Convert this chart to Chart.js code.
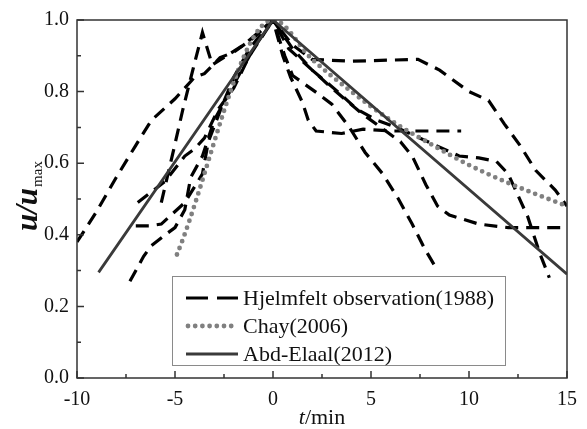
<!DOCTYPE html>
<html>
<head>
<meta charset="utf-8">
<script src="https://cdn.jsdelivr.net/npm/chart.js@4.4.1/dist/chart.umd.min.js"></script>
<style>
html,body{margin:0;padding:0;background:#fff;}
#wrap{width:587px;height:429px;position:relative;}
</style>
</head>
<body>
<div id="wrap"><canvas id="c" width="587" height="429"></canvas></div>
<script>
// ---- data (t in min, u/umax) ----
const obs1 = [[-10,0.38],[-9,0.465],[-8,0.56],[-7,0.65],[-6.2,0.72],[-5,0.78],[-4,0.84],[-3.5,0.85],[-2.7,0.895],[-2,0.91],[-1,0.95],[0,1],
  [1,0.93],[2,0.89],[4,0.885],[7.4,0.89],[8.5,0.86],[10,0.80],[11,0.775],[11.8,0.71],[12.6,0.65],[13.4,0.58],[14.4,0.525],[15,0.48]];
const obs2 = [[-5.7,0.49],[-5.1,0.63],[-4.6,0.75],[-4.0,0.88],[-3.6,0.965],[-3.1,0.875],[-1.5,0.93],[0,1],
  [0.5,0.90],[0.9,0.84],[1.5,0.77],[1.8,0.72],[2.2,0.69],[3.5,0.683],[4.6,0.695],[6,0.69],[7.8,0.69],[9.6,0.69]];
const obs3 = [[-7.3,0.27],[-6.6,0.34],[-6.2,0.37],[-5.5,0.40],[-5.0,0.42],[-4.5,0.47],[-4.2,0.56],[-3.6,0.62],[-3.0,0.72],[-2.0,0.82],[-1,0.92],[0,1],
  [0.6,0.90],[1.0,0.845],[2.4,0.79],[3.0,0.765],[3.9,0.70],[4.7,0.63],[5.6,0.57],[6.4,0.50],[7.1,0.43],[7.75,0.36],[8.4,0.30]];
const obs4 = [[-7,0.425],[-6.3,0.425],[-5.7,0.43],[-5.2,0.455],[-4.5,0.49],[-3.6,0.57],[-3.3,0.66],[-2.6,0.76],[-2.0,0.84],[-1.2,0.92],[0,1],
  [0.8,0.92],[2,0.86],[3,0.81],[4.5,0.74],[5.5,0.70],[6.5,0.66],[7.1,0.62],[7.8,0.54],[8.4,0.48],[9,0.455],[10.5,0.43],[12,0.42],[15,0.42]];
const obs5 = [[-6.9,0.49],[-6.2,0.52],[-5.5,0.55],[-4.5,0.62],[-4.0,0.64],[-3.5,0.67],[-2.8,0.75],[-2.0,0.81],[-1.2,0.90],[0,1],
  [1,0.92],[2,0.86],[3.3,0.80],[4.3,0.75],[5.3,0.72],[6.3,0.70],[7.7,0.665],[9.5,0.62],[10.5,0.615],[11.4,0.605],[12,0.57],[13,0.45],[13.6,0.35],[14.1,0.28]];
const chay = [[-4.9,0.345],[0,1],[2,0.89],[4,0.80],[6,0.72],[8,0.655],[10,0.595],[12,0.545],[15,0.48]];
const abdElaal = [[-8.9,0.295],[0,1],[15,0.29]];

const xTicks = [-10,-5,0,5,10,15];
const xMinor = [-7.5,-2.5,2.5,7.5,12.5];
const yTicks = [0,0.2,0.4,0.6,0.8,1.0];
const yMinor = [0.1,0.3,0.5,0.7,0.9];
const legendLabels = ['Hjelmfelt observation(1988)','Chay(2006)','Abd-Elaal(2012)'];

const SERIF = '"Liberation Serif","Times New Roman",serif';
const toXY = a => a.map(p => ({x:p[0], y:p[1]}));

const obsStyle = {borderColor:'#000', borderWidth:3.2, borderDash:[13,8], pointRadius:0, fill:false, tension:0, order:3};
const datasets = [
  Object.assign({label:legendLabels[0], data:toXY(obs1)}, obsStyle),
  Object.assign({label:legendLabels[0]+' b', data:toXY(obs2)}, obsStyle),
  Object.assign({label:legendLabels[0]+' c', data:toXY(obs3)}, obsStyle),
  Object.assign({label:legendLabels[0]+' d', data:toXY(obs4)}, obsStyle),
  Object.assign({label:legendLabels[0]+' e', data:toXY(obs5)}, obsStyle),
  {label:legendLabels[1], data:toXY(chay), borderColor:'#808080', borderWidth:4.8, borderDash:[0,7.2], borderCapStyle:'round',
   pointRadius:0, fill:false, cubicInterpolationMode:'monotone', order:2},
  {label:legendLabels[2], data:toXY(abdElaal), borderColor:'#3a3a3a', borderWidth:2.8, pointRadius:0, fill:false, tension:0, order:1}
];

const decor = {
  id:'decor',
  afterDraw(chart){
    const {ctx, chartArea:a, scales:{x, y}} = chart;
    ctx.save();
    // frame
    ctx.strokeStyle = '#333'; ctx.lineWidth = 1.5;
    ctx.strokeRect(a.left, a.top, a.right - a.left, a.bottom - a.top);
    // inward ticks
    ctx.beginPath();
    xTicks.forEach(v => { const p = x.getPixelForValue(v); ctx.moveTo(p, a.bottom); ctx.lineTo(p, a.bottom - 7); });
    xMinor.forEach(v => { const p = x.getPixelForValue(v); ctx.moveTo(p, a.bottom); ctx.lineTo(p, a.bottom - 4); });
    yTicks.forEach(v => { const p = y.getPixelForValue(v); ctx.moveTo(a.left, p); ctx.lineTo(a.left + 7, p); });
    yMinor.forEach(v => { const p = y.getPixelForValue(v); ctx.moveTo(a.left, p); ctx.lineTo(a.left + 4, p); });
    ctx.stroke();

    // y title: u/u_max (rotated)
    ctx.fillStyle = '#111';
    ctx.save();
    ctx.translate(37, 231);
    ctx.rotate(-Math.PI/2);
    ctx.textAlign = 'left'; ctx.textBaseline = 'alphabetic';
    ctx.font = 'italic bold 31px ' + SERIF;
    ctx.fillText('u/u', 0, 0);
    const w = ctx.measureText('u/u').width;
    ctx.font = '15px ' + SERIF;
    ctx.fillText('max', w + 1, 5);
    ctx.restore();

    // x title: t/min
    ctx.font = 'italic 22px ' + SERIF;
    const wt = ctx.measureText('t').width;
    ctx.font = '22px ' + SERIF;
    const wm = ctx.measureText('/min').width;
    const cx = (a.left + a.right) / 2;
    const sx = cx - (wt + wm) / 2;
    ctx.textAlign = 'left'; ctx.textBaseline = 'alphabetic';
    ctx.font = 'italic 22px ' + SERIF;
    ctx.fillText('t', sx, 424);
    ctx.font = '22px ' + SERIF;
    ctx.fillText('/min', sx + wt, 424);

    // legend
    const bx = 172.5, by = 276.5, bw = 333, bh = 89;
    ctx.fillStyle = '#fff';
    ctx.fillRect(bx, by, bw, bh);
    ctx.strokeStyle = '#8a8a8a'; ctx.lineWidth = 1;
    ctx.strokeRect(bx, by, bw, bh);
    const rows = [298, 326, 354];
    const lx0 = 186, lx1 = 238;
    ctx.strokeStyle = '#000'; ctx.lineWidth = 3.2; ctx.setLineDash([22, 9]); ctx.lineCap = 'butt';
    ctx.beginPath(); ctx.moveTo(lx0, rows[0]); ctx.lineTo(lx1, rows[0]); ctx.stroke();
    ctx.strokeStyle = '#808080'; ctx.lineWidth = 4.8; ctx.setLineDash([0, 7.2]); ctx.lineCap = 'round';
    ctx.beginPath(); ctx.moveTo(lx0 + 2, rows[1]); ctx.lineTo(lx1, rows[1]); ctx.stroke();
    ctx.strokeStyle = '#3a3a3a'; ctx.lineWidth = 2.8; ctx.setLineDash([]); ctx.lineCap = 'butt';
    ctx.beginPath(); ctx.moveTo(lx0, rows[2]); ctx.lineTo(lx1, rows[2]); ctx.stroke();
    ctx.fillStyle = '#111';
    ctx.font = '22px ' + SERIF;
    ctx.textAlign = 'left'; ctx.textBaseline = 'middle';
    legendLabels.forEach((t, i) => ctx.fillText(t, 243, rows[i] + 1));
    ctx.restore();
  }
};

new Chart(document.getElementById('c'), {
  type:'line',
  data:{datasets},
  options:{
    responsive:false,
    animation:false,
    devicePixelRatio:1,
    layout:{padding:{left:0, right:20, top:15, bottom:0}},
    plugins:{legend:{display:false}, tooltip:{enabled:false}},
    scales:{
      x:{
        type:'linear', min:-10, max:15,
        afterBuildTicks: s => { s.ticks = xTicks.map(v => ({value:v})); },
        afterFit: s => { s.height = 51; },
        grid:{display:false, drawTicks:false},
        border:{display:false},
        ticks:{font:{family:SERIF, size:20}, color:'#111', padding:10, maxRotation:0, autoSkip:false,
               callback: v => String(v)}
      },
      y:{
        type:'linear', min:0, max:1,
        afterBuildTicks: s => { s.ticks = yTicks.map(v => ({value:v})); },
        afterFit: s => { s.width = 77; },
        grid:{display:false, drawTicks:false},
        border:{display:false},
        ticks:{font:{family:SERIF, size:20}, color:'#111', padding:8, autoSkip:false,
               callback: v => Number(v).toFixed(1)}
      }
    }
  },
  plugins:[decor]
});
</script>
</body>
</html>
